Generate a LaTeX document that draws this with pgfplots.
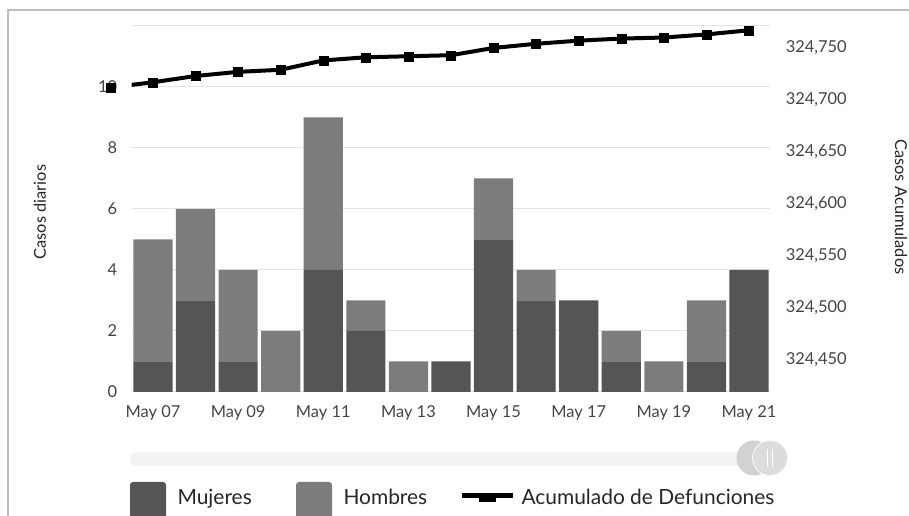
\documentclass[border=0pt]{standalone}
\usepackage{pgfplots}
\pgfplotsset{compat=1.18}
\usepackage{pgfplotstable}
\usepackage{fontspec}
\setmainfont{Lato}
\definecolor{muj}{HTML}{555555}
\definecolor{hom}{HTML}{7C7C7C}
\definecolor{grd}{HTML}{E2E2E2}
\definecolor{txt}{HTML}{444444}
\definecolor{trk}{HTML}{F3F3F3}
\definecolor{knobA}{HTML}{D2D2D2}
\definecolor{knobB}{HTML}{DCDCDC}

\pgfplotstableread{
x m h
0 1 4
1 3 3
2 1 3
3 0 2
4 4 5
5 2 1
6 0 1
7 1 0
8 5 2
9 3 1
10 3 0
11 1 1
12 0 1
13 1 2
14 4 0
}\bars

\pgfplotstableread{
x c
-1 324712
0 324717
1 324723
2 324727
3 324729
4 324738
5 324741
6 324742
7 324743
8 324750
9 324754
10 324757
11 324759
12 324760
13 324763
14 324767
}\acum

\pgfplotsset{common/.style={at={(131.7bp,124bp)}, anchor=south west, scale only axis,
  width=638.6bp, height=366bp, xmin=-0.5, xmax=14.5}}

\begin{document}
\begin{tikzpicture}[x=1bp,y=1bp]
\useasboundingbox (0,0) rectangle (909,516);
\draw[color=gray!50, line width=1.5bp] (8,-5) -- (8,506) -- (915,506);

\begin{axis}[common, ymin=0, ymax=12,
  ybar stacked, bar width=0.92,
  axis line style={draw=none}, major tick length=0,
  ytick={0,2,4,6,8,10,12}, yticklabels={0,2,4,6,8,10,},
  ymajorgrids, grid style={grd, line width=1bp},
  xtick={0,2,4,6,8,10,12,14},
  xticklabels={May 07,May 09,May 11,May 13,May 15,May 17,May 19,May 21},
  tick label style={font=\fontsize{16.5}{19}\selectfont, text=txt},
  yticklabel style={xshift=-11bp},
  xticklabel style={yshift=-10bp},
  /pgf/number format/assume math mode=true,
]
\addplot[fill=muj, draw=none] table[x=x,y=m]{\bars};
\addplot[fill=hom, draw=none] table[x=x,y=h]{\bars};
\end{axis}

\begin{axis}[common, ymin=324419.2, ymax=324771.1,
  axis x line=none, axis y line*=right,
  axis line style={draw=none}, major tick length=0,
  ytick={324450,324500,324550,324600,324650,324700,324750},
  scaled y ticks=false,
  yticklabel={\pgfmathprintnumber[fixed,precision=0,1000 sep={,},assume math mode=true]{\tick}},
  tick label style={font=\fontsize{16.5}{19}\selectfont, text=txt},
  yticklabel style={xshift=12bp},
]
\addplot[black, line width=4bp, mark=square*, mark size=2.5bp] table[x=x,y=c]{\acum};
\end{axis}

\begin{axis}[common, ymin=324419.2, ymax=324771.1, hide axis, clip=false]
\addplot[black, only marks, mark=square*, mark size=4.5bp] table[x=x,y=c]{\acum};
\end{axis}

\node[rotate=90, font=\fontsize{16.5}{19}\selectfont, text=black!85] at (40,304) {Casos diarios};
\node[rotate=-90, font=\fontsize{16.5}{19}\selectfont, text=black!85] at (901,309) {Casos Acumulados};

% slider
\fill[trk, rounded corners=7bp] (130,50) rectangle (765,64);
\fill[knobA] (754,58) circle (17.5);
\filldraw[fill=knobB, draw=white!92!gray, line width=1bp] (770,58) circle (17.5);
\draw[white, line width=1bp] (767.5,49) -- (767.5,67);
\draw[white, line width=1bp] (772.5,49) -- (772.5,67);

% legend
\fill[muj, rounded corners=3bp] (130,-8) rectangle (166,34);
\node[anchor=base west, font=\fontsize{21}{24}\selectfont, text=black!85] at (174,11) {Mujeres};
\fill[hom, rounded corners=3bp] (296,-8) rectangle (332,34);
\node[anchor=base west, font=\fontsize{21}{24}\selectfont, text=black!85] at (340,11) {Hombres};
\fill[black] (462,18) rectangle (513,23);
\fill[black] (479,14) rectangle (496,23);
\node[anchor=base west, font=\fontsize{21}{24}\selectfont, text=black!85] at (518,11) {Acumulado de Defunciones};
\end{tikzpicture}
\end{document}
